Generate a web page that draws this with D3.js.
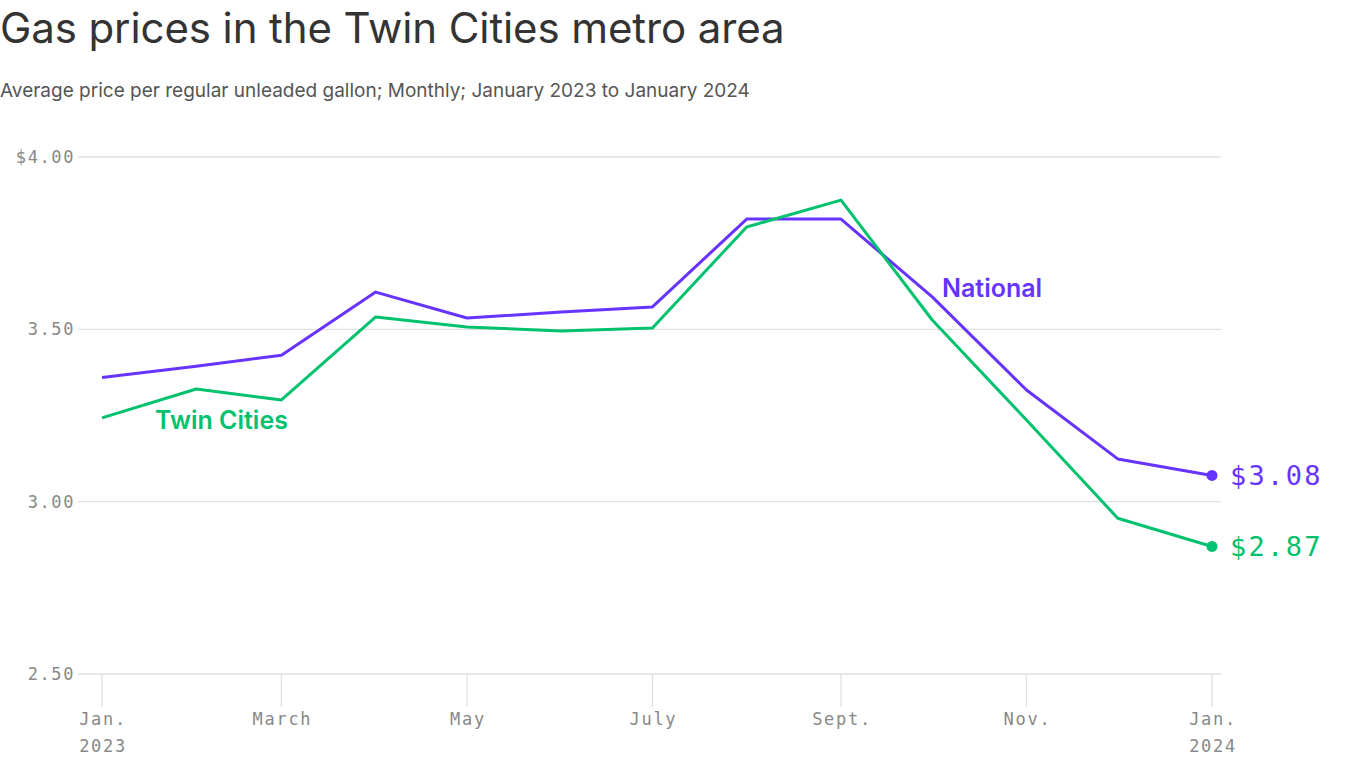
<!DOCTYPE html>
<html><head><meta charset="utf-8">
<script src="https://cdn.jsdelivr.net/npm/d3@7"></script>
<style>
body{margin:0;background:#fff;}
svg{display:block;}
</style></head>
<body>
<svg id="chart" width="1366" height="768"></svg>
<script>
const months = ["2023-01","2023-02","2023-03","2023-04","2023-05","2023-06","2023-07","2023-08","2023-09","2023-10","2023-11","2023-12","2024-01"];
const national = [3.36,3.393,3.425,3.608,3.533,3.55,3.565,3.82,3.82,3.594,3.324,3.124,3.076];
const twinCities = [3.243,3.327,3.295,3.536,3.507,3.495,3.504,3.797,3.875,3.527,3.237,2.952,2.87];
const yTicks = [2.5,3.0,3.5,4.0];
const xTickDates = ["2023-01","2023-03","2023-05","2023-07","2023-09","2023-11","2024-01"];
const xTickLabels = [["Jan.","2023"],["March"],["May"],["July"],["Sept."],["Nov."],["Jan.","2024"]];

const parse = d3.timeParse("%Y-%m");
const svg = d3.select("#chart");
const mono = "'DejaVu Sans Mono', 'Liberation Mono', monospace";
const sans = "Inter, 'Noto Sans', sans-serif";

svg.append("text").attr("x",0).attr("y",43).attr("font-family",sans).attr("font-size",42)
  .attr("letter-spacing",-0.1).attr("fill","#333").text("Gas prices in the Twin Cities metro area");
svg.append("text").attr("x",0).attr("y",97).attr("font-family",sans).attr("font-size",19)
  .attr("letter-spacing",0).attr("fill","#555").text("Average price per regular unleaded gallon; Monthly; January 2023 to January 2024");

const x = d3.scaleTime().domain([parse("2023-01"),parse("2024-01")]).range([102,1212]);
const y = d3.scaleLinear().domain([2.5,4.0]).range([674,157]);

// grid
const gy = svg.append("g");
gy.selectAll("line").data(yTicks).join("line")
  .attr("x1",78).attr("x2",1221).attr("y1",d=>y(d)).attr("y2",d=>y(d))
  .attr("stroke","#e0e0e0").attr("stroke-width",1.3);
gy.selectAll("text").data(yTicks).join("text")
  .attr("x",75).attr("y",d=>y(d)+6).attr("text-anchor","end")
  .attr("font-family",mono).attr("font-size",17).attr("letter-spacing",1.6).attr("fill","#888")
  .text(d=> d===4 ? "$4.00" : d.toFixed(2));

// x ticks
const gx = svg.append("g");
xTickDates.forEach((d,i)=>{
  const xp = x(parse(d));
  gx.append("line").attr("x1",xp).attr("x2",xp).attr("y1",674).attr("y2",707)
    .attr("stroke","#e0e0e0").attr("stroke-width",1.3);
  xTickLabels[i].forEach((t,j)=>{
    gx.append("text").attr("x",xp+1).attr("y",725+j*27).attr("text-anchor","middle")
      .attr("font-family",mono).attr("font-size",17).attr("letter-spacing",1.7).attr("fill","#888").text(t);
  });
});

const line = d3.line().x((d,i)=>x(parse(months[i]))).y(d=>y(d));
const series = [
  {name:"National", vals:national, color:"#6633ff", label:"$3.08"},
  {name:"Twin Cities", vals:twinCities, color:"#00c16e", label:"$2.87"}
];
series.forEach(s=>{
  svg.append("path").attr("d",line(s.vals)).attr("fill","none").attr("stroke",s.color)
    .attr("stroke-width",3).attr("stroke-linejoin","round");
  const last = s.vals[s.vals.length-1];
  const lx = x(parse(months[months.length-1]));
  svg.append("circle").attr("cx",lx).attr("cy",y(last)).attr("r",5.5).attr("fill",s.color);
  svg.append("text").attr("x",1230).attr("y",y(last)+10).attr("font-family",mono)
    .attr("font-size",27).attr("letter-spacing",2.3).attr("fill",s.color).text(s.label);
});

svg.append("text").attr("x",942).attr("y",297).attr("font-family",sans).attr("font-weight",600)
  .attr("font-size",25).attr("letter-spacing",0).attr("fill","#6633ff").text("National");
svg.append("text").attr("x",155).attr("y",429).attr("font-family",sans).attr("font-weight",600)
  .attr("font-size",25).attr("letter-spacing",0).attr("fill","#00c16e").text("Twin Cities");
</script>
</body></html>
